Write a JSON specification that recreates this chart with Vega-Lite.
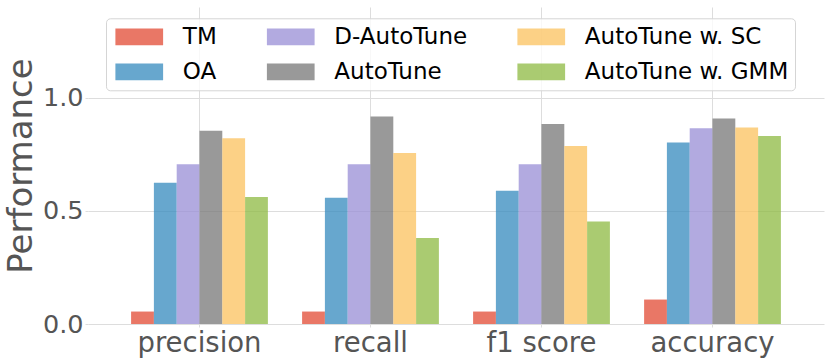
{
  "$schema": "https://vega.github.io/schema/vega-lite/v6.json",
  "autosize": {"type": "none"},
  "width": 736,
  "height": 317,
  "padding": {"left": 88, "top": 7, "right": 6, "bottom": 36},
  "data": {
    "values": [
      {"metric": "precision", "method": "TM", "value": 0.055},
      {"metric": "precision", "method": "OA", "value": 0.624},
      {"metric": "precision", "method": "D-AutoTune", "value": 0.705},
      {"metric": "precision", "method": "AutoTune", "value": 0.854},
      {"metric": "precision", "method": "AutoTune w. SC", "value": 0.82},
      {"metric": "precision", "method": "AutoTune w. GMM", "value": 0.561},
      {"metric": "recall", "method": "TM", "value": 0.055},
      {"metric": "recall", "method": "OA", "value": 0.558},
      {"metric": "recall", "method": "D-AutoTune", "value": 0.705},
      {"metric": "recall", "method": "AutoTune", "value": 0.916},
      {"metric": "recall", "method": "AutoTune w. SC", "value": 0.755},
      {"metric": "recall", "method": "AutoTune w. GMM", "value": 0.38},
      {"metric": "f1 score", "method": "TM", "value": 0.055},
      {"metric": "f1 score", "method": "OA", "value": 0.589},
      {"metric": "f1 score", "method": "D-AutoTune", "value": 0.705},
      {"metric": "f1 score", "method": "AutoTune", "value": 0.883},
      {"metric": "f1 score", "method": "AutoTune w. SC", "value": 0.786},
      {"metric": "f1 score", "method": "AutoTune w. GMM", "value": 0.453},
      {"metric": "accuracy", "method": "TM", "value": 0.108},
      {"metric": "accuracy", "method": "OA", "value": 0.802},
      {"metric": "accuracy", "method": "D-AutoTune", "value": 0.865},
      {"metric": "accuracy", "method": "AutoTune", "value": 0.908},
      {"metric": "accuracy", "method": "AutoTune w. SC", "value": 0.868},
      {"metric": "accuracy", "method": "AutoTune w. GMM", "value": 0.83}
    ]
  },
  "mark": {"type": "bar", "opacity": 0.75},
  "encoding": {
    "x": {
      "field": "metric",
      "type": "nominal",
      "sort": ["precision", "recall", "f1 score", "accuracy"],
      "scale": {"paddingInner": 0.2, "paddingOuter": 0.252},
      "axis": {
        "title": null,
        "labelAngle": 0,
        "labelFont": "DejaVu Sans",
        "labelFontSize": 27.5,
        "labelColor": "#555555",
        "labelPadding": 2,
        "tickSize": 3,
        "tickColor": "#dddddd",
        "domain": false,
        "grid": true,
        "gridColor": "#dddddd",
        "gridWidth": 1,
        "bandPosition": 0.5
      }
    },
    "xOffset": {
      "field": "method",
      "type": "nominal",
      "sort": ["TM", "OA", "D-AutoTune", "AutoTune", "AutoTune w. SC", "AutoTune w. GMM"],
      "scale": {"paddingInner": 0, "paddingOuter": 0}
    },
    "y": {
      "field": "value",
      "type": "quantitative",
      "scale": {"domain": [0, 1.4], "nice": false},
      "axis": {
        "title": "Performance",
        "titleFont": "DejaVu Sans",
        "titleFontSize": 34,
        "titleFontWeight": "normal",
        "titleColor": "#555555",
        "titlePadding": 4,
        "values": [0, 0.5, 1.0],
        "format": ".1f",
        "labelFont": "DejaVu Sans",
        "labelFontSize": 25.5,
        "labelColor": "#555555",
        "labelPadding": 2,
        "tickSize": 3,
        "tickColor": "#dddddd",
        "domain": false,
        "grid": true,
        "gridColor": "#dddddd",
        "gridWidth": 1
      }
    },
    "color": {
      "field": "method",
      "type": "nominal",
      "scale": {
        "domain": ["TM", "D-AutoTune", "AutoTune w. SC", "OA", "AutoTune", "AutoTune w. GMM"],
        "range": ["#E24A33", "#988ED5", "#FBC15E", "#348ABD", "#777777", "#8EBA42"]
      },
      "legend": {
        "title": null,
        "orient": "none",
        "legendX": 18,
        "legendY": 11.3,
        "direction": "horizontal",
        "columns": 3,
        "symbolType": "M-2,-0.7L2,-0.7L2,0.7L-2,0.7Z",
        "symbolSize": 569,
        "symbolOffset": 14.75,
        "symbolOpacity": 0.75,
        "symbolStrokeWidth": 0,
        "labelFont": "DejaVu Sans",
        "labelFontSize": 23,
        "labelColor": "black",
        "labelOffset": 31.6,
        "labelLimit": 400,
        "columnPadding": 46.5,
        "rowPadding": 11,
        "padding": 6.5,
        "strokeColor": "#d5d5d5",
        "fillColor": "rgba(255,255,255,0.8)",
        "cornerRadius": 4
      }
    }
  },
  "config": {
    "view": {"stroke": null},
    "font": "DejaVu Sans"
  }
}
